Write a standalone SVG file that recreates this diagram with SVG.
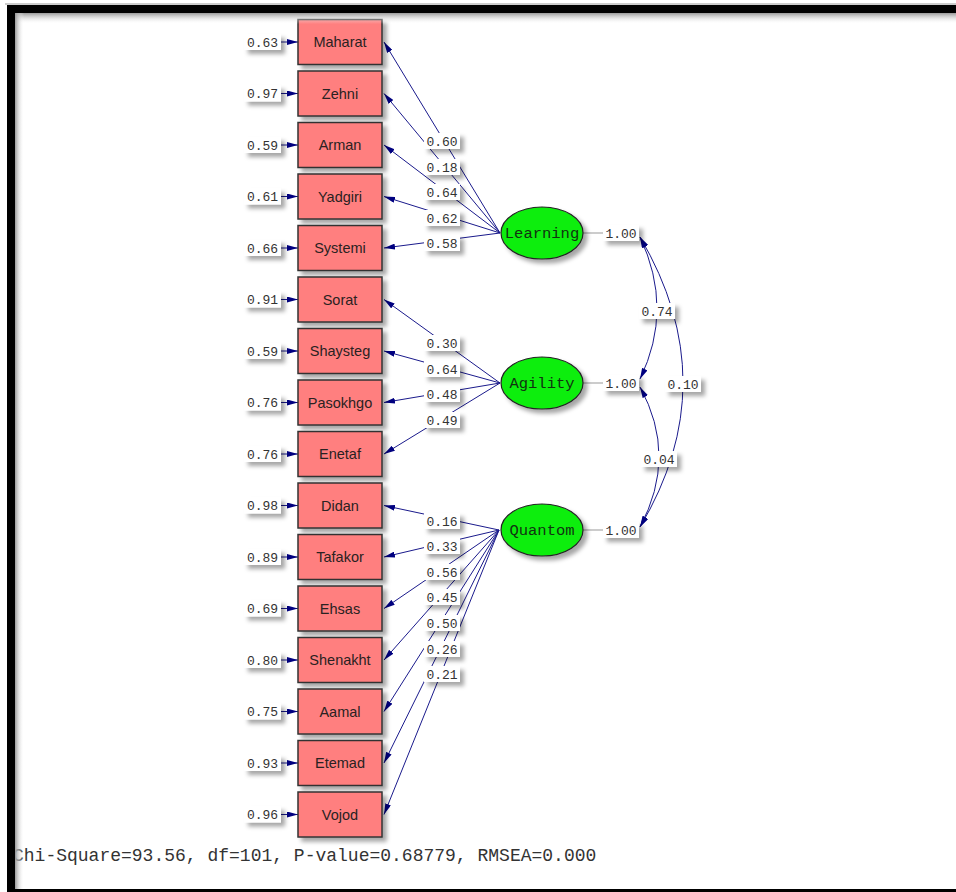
<svg xmlns="http://www.w3.org/2000/svg" width="956" height="892" viewBox="0 0 956 892">
<defs>
<style>
.box{fill:#FF7F7F;stroke:#333;stroke-width:1.5}
.bt{font-family:"Liberation Sans",Arial,sans-serif;font-size:14.5px;fill:#2a2222;text-anchor:middle}
.lat{fill:#11EE11;stroke:#222;stroke-width:1.2}
.lt{font-family:"Liberation Mono","Courier New",monospace;font-size:15.5px;fill:#113311;text-anchor:middle}
.lb{fill:#fff}
.num{font-family:"Liberation Mono","Courier New",monospace;font-size:13px;fill:#333;text-anchor:middle}
.ln{fill:none;stroke:#1a1a8c;stroke-width:1}
.vl{stroke:#999;stroke-width:1}
</style>
<filter id="sh" x="-20%" y="-20%" width="150%" height="160%">
<feDropShadow dx="4" dy="4" stdDeviation="2" flood-color="#000" flood-opacity="0.35"/>
</filter>
<marker id="ah" viewBox="0 0 11 6" refX="11" refY="3" markerWidth="11" markerHeight="6" markerUnits="userSpaceOnUse" orient="auto-start-reverse">
<path d="M0,0 L11,3 L0,6 z" fill="#000080"/>
</marker>
<linearGradient id="gt" x1="0" y1="0" x2="0" y2="1">
<stop offset="0" stop-color="#999"/><stop offset="1" stop-color="#fff" stop-opacity="0"/>
</linearGradient>
<linearGradient id="gl" x1="0" y1="0" x2="1" y2="0">
<stop offset="0" stop-color="#999"/><stop offset="1" stop-color="#fff" stop-opacity="0"/>
</linearGradient>
</defs>
<rect width="956" height="892" fill="#fff"/>

<g id="connectors">
<!-- error arrows -->
<g class="ln" marker-end="url(#ah)">
<path d="M281,42 H298"/><path d="M281,93.5 H298"/><path d="M281,145 H298"/><path d="M281,196.5 H298"/>
<path d="M281,248 H298"/><path d="M281,299.5 H298"/><path d="M281,351 H298"/><path d="M281,402.5 H298"/>
<path d="M281,454 H298"/><path d="M281,505.5 H298"/><path d="M281,557 H298"/><path d="M281,608.5 H298"/>
<path d="M281,660 H298"/><path d="M281,711.5 H298"/><path d="M281,763 H298"/><path d="M281,814.5 H298"/>
</g>
<!-- loadings -->
<g class="ln" marker-end="url(#ah)">
<path d="M500,233 L384,42"/><path d="M500,233 L384,93.5"/><path d="M500,233 L384,145"/><path d="M500,233 L384,196.5"/><path d="M500,233 L384,248"/>
<path d="M500,383 L384,299.5"/><path d="M500,383 L384,351"/><path d="M500,383 L384,402.5"/><path d="M500,383 L384,454"/>
<path d="M499,530 L384,505.5"/><path d="M499,530 L384,557"/><path d="M499,530 L384,608.5"/><path d="M499,530 L384,660"/>
<path d="M499,530 L384,711.5"/><path d="M499,530 L384,763"/><path d="M499,530 L384,814.5"/>
</g>
<!-- variances -->
<line class="vl" x1="583" y1="233" x2="603" y2="233"/>
<line class="vl" x1="583" y1="383" x2="603" y2="383"/>
<line class="vl" x1="583" y1="530" x2="603" y2="530"/>
<!-- correlations -->
<g class="ln" marker-start="url(#ah)" marker-end="url(#ah)">
<path d="M640,237 Q674,309 640,379"/>
<path d="M640,237 Q726,383 640,527"/>
<path d="M640,387 Q678,456 640,527"/>
</g>
<!-- loading labels -->
<g filter="url(#sh)">
<rect class="lb" x="424" y="133" width="36" height="16"/><rect class="lb" x="424" y="159" width="36" height="16"/>
<rect class="lb" x="424" y="184" width="36" height="16"/><rect class="lb" x="424" y="210" width="36" height="16"/>
<rect class="lb" x="424" y="235" width="36" height="16"/>
<rect class="lb" x="424" y="335" width="36" height="16"/><rect class="lb" x="424" y="361" width="36" height="16"/>
<rect class="lb" x="424" y="386" width="36" height="16"/><rect class="lb" x="424" y="412" width="36" height="16"/>
<rect class="lb" x="424" y="513" width="36" height="16"/><rect class="lb" x="424" y="538" width="36" height="16"/>
<rect class="lb" x="424" y="564" width="36" height="16"/><rect class="lb" x="424" y="589" width="36" height="16"/>
<rect class="lb" x="424" y="615" width="36" height="16"/><rect class="lb" x="424" y="641" width="36" height="16"/>
<rect class="lb" x="424" y="666" width="36" height="16"/>
<rect class="lb" x="603" y="225" width="36" height="16"/><rect class="lb" x="603" y="375" width="36" height="16"/>
<rect class="lb" x="603" y="522" width="36" height="16"/>
<rect class="lb" x="639" y="303" width="36" height="16"/><rect class="lb" x="665" y="376" width="36" height="16"/>
<rect class="lb" x="641" y="451" width="36" height="16"/>
</g>
<g class="num">
<text x="442" y="145.5">0.60</text><text x="442" y="171.5">0.18</text><text x="442" y="196.5">0.64</text>
<text x="442" y="222.5">0.62</text><text x="442" y="247.5">0.58</text>
<text x="442" y="347.5">0.30</text><text x="442" y="373.5">0.64</text><text x="442" y="398.5">0.48</text>
<text x="442" y="424.5">0.49</text>
<text x="442" y="525.5">0.16</text><text x="442" y="550.5">0.33</text><text x="442" y="576.5">0.56</text>
<text x="442" y="601.5">0.45</text><text x="442" y="627.5">0.50</text><text x="442" y="653.5">0.26</text>
<text x="442" y="678.5">0.21</text>
<text x="621" y="237.5">1.00</text><text x="621" y="387.5">1.00</text><text x="621" y="534.5">1.00</text>
<text x="657" y="315.5">0.74</text><text x="683" y="388.5">0.10</text><text x="659" y="463.5">0.04</text>
</g>
</g>

<g id="errors">
<g filter="url(#sh)">
<rect class="lb" x="244" y="34" width="37" height="16"/><rect class="lb" x="244" y="85.5" width="37" height="16"/>
<rect class="lb" x="244" y="137" width="37" height="16"/><rect class="lb" x="244" y="188.5" width="37" height="16"/>
<rect class="lb" x="244" y="240" width="37" height="16"/><rect class="lb" x="244" y="291.5" width="37" height="16"/>
<rect class="lb" x="244" y="343" width="37" height="16"/><rect class="lb" x="244" y="394.5" width="37" height="16"/>
<rect class="lb" x="244" y="446" width="37" height="16"/><rect class="lb" x="244" y="497.5" width="37" height="16"/>
<rect class="lb" x="244" y="549" width="37" height="16"/><rect class="lb" x="244" y="600.5" width="37" height="16"/>
<rect class="lb" x="244" y="652" width="37" height="16"/><rect class="lb" x="244" y="703.5" width="37" height="16"/>
<rect class="lb" x="244" y="755" width="37" height="16"/><rect class="lb" x="244" y="806.5" width="37" height="16"/>
</g>
<g class="num">
<text x="262.5" y="46.5">0.63</text><text x="262.5" y="98">0.97</text><text x="262.5" y="149.5">0.59</text>
<text x="262.5" y="201">0.61</text><text x="262.5" y="252.5">0.66</text><text x="262.5" y="304">0.91</text>
<text x="262.5" y="355.5">0.59</text><text x="262.5" y="407">0.76</text><text x="262.5" y="458.5">0.76</text>
<text x="262.5" y="510">0.98</text><text x="262.5" y="561.5">0.89</text><text x="262.5" y="613">0.69</text>
<text x="262.5" y="664.5">0.80</text><text x="262.5" y="716">0.75</text><text x="262.5" y="767.5">0.93</text>
<text x="262.5" y="819">0.96</text>
</g>
</g>

<g id="Maharat"><rect class="box" filter="url(#sh)" x="298" y="19.5" width="84" height="45"/><text class="bt" x="340" y="47">Maharat</text></g>
<g id="Zehni"><rect class="box" filter="url(#sh)" x="298" y="71" width="84" height="45"/><text class="bt" x="340" y="98.5">Zehni</text></g>
<g id="Arman"><rect class="box" filter="url(#sh)" x="298" y="122.5" width="84" height="45"/><text class="bt" x="340" y="150">Arman</text></g>
<g id="Yadgiri"><rect class="box" filter="url(#sh)" x="298" y="174" width="84" height="45"/><text class="bt" x="340" y="201.5">Yadgiri</text></g>
<g id="Systemi"><rect class="box" filter="url(#sh)" x="298" y="225.5" width="84" height="45"/><text class="bt" x="340" y="253">Systemi</text></g>
<g id="Sorat"><rect class="box" filter="url(#sh)" x="298" y="277" width="84" height="45"/><text class="bt" x="340" y="304.5">Sorat</text></g>
<g id="Shaysteg"><rect class="box" filter="url(#sh)" x="298" y="328.5" width="84" height="45"/><text class="bt" x="340" y="356">Shaysteg</text></g>
<g id="Pasokhgo"><rect class="box" filter="url(#sh)" x="298" y="380" width="84" height="45"/><text class="bt" x="340" y="407.5">Pasokhgo</text></g>
<g id="Enetaf"><rect class="box" filter="url(#sh)" x="298" y="431.5" width="84" height="45"/><text class="bt" x="340" y="459">Enetaf</text></g>
<g id="Didan"><rect class="box" filter="url(#sh)" x="298" y="483" width="84" height="45"/><text class="bt" x="340" y="510.5">Didan</text></g>
<g id="Tafakor"><rect class="box" filter="url(#sh)" x="298" y="534.5" width="84" height="45"/><text class="bt" x="340" y="562">Tafakor</text></g>
<g id="Ehsas"><rect class="box" filter="url(#sh)" x="298" y="586" width="84" height="45"/><text class="bt" x="340" y="613.5">Ehsas</text></g>
<g id="Shenakht"><rect class="box" filter="url(#sh)" x="298" y="637.5" width="84" height="45"/><text class="bt" x="340" y="665">Shenakht</text></g>
<g id="Aamal"><rect class="box" filter="url(#sh)" x="298" y="689" width="84" height="45"/><text class="bt" x="340" y="716.5">Aamal</text></g>
<g id="Etemad"><rect class="box" filter="url(#sh)" x="298" y="740.5" width="84" height="45"/><text class="bt" x="340" y="768">Etemad</text></g>
<g id="Vojod"><rect class="box" filter="url(#sh)" x="298" y="792" width="84" height="45"/><text class="bt" x="340" y="819.5">Vojod</text></g>

<g id="Learning"><ellipse class="lat" filter="url(#sh)" cx="542" cy="233" rx="41" ry="26"/><text class="lt" x="542" y="238">Learning</text></g>
<g id="Agility"><ellipse class="lat" filter="url(#sh)" cx="542" cy="383" rx="41" ry="26"/><text class="lt" x="542" y="388">Agility</text></g>
<g id="Quantom"><ellipse class="lat" filter="url(#sh)" cx="542" cy="530" rx="41" ry="26"/><text class="lt" x="542" y="535">Quantom</text></g>

<text x="13" y="861" font-family="Liberation Mono,'Courier New',monospace" font-size="18" fill="#333">Chi-Square=93.56, df=101, P-value=0.68779, RMSEA=0.000</text>

<g id="frame">
<rect x="15" y="13" width="941" height="11" fill="url(#gt)"/>
<rect x="15" y="13" width="9" height="876" fill="url(#gl)"/>
<rect x="5" y="3" width="951" height="2" fill="#ccc"/>
<rect x="7" y="5" width="949" height="8" fill="#000"/>
<rect x="7" y="5" width="8" height="887" fill="#000"/>
<rect x="7" y="889" width="949" height="3" fill="#000"/>
</g>
</svg>
